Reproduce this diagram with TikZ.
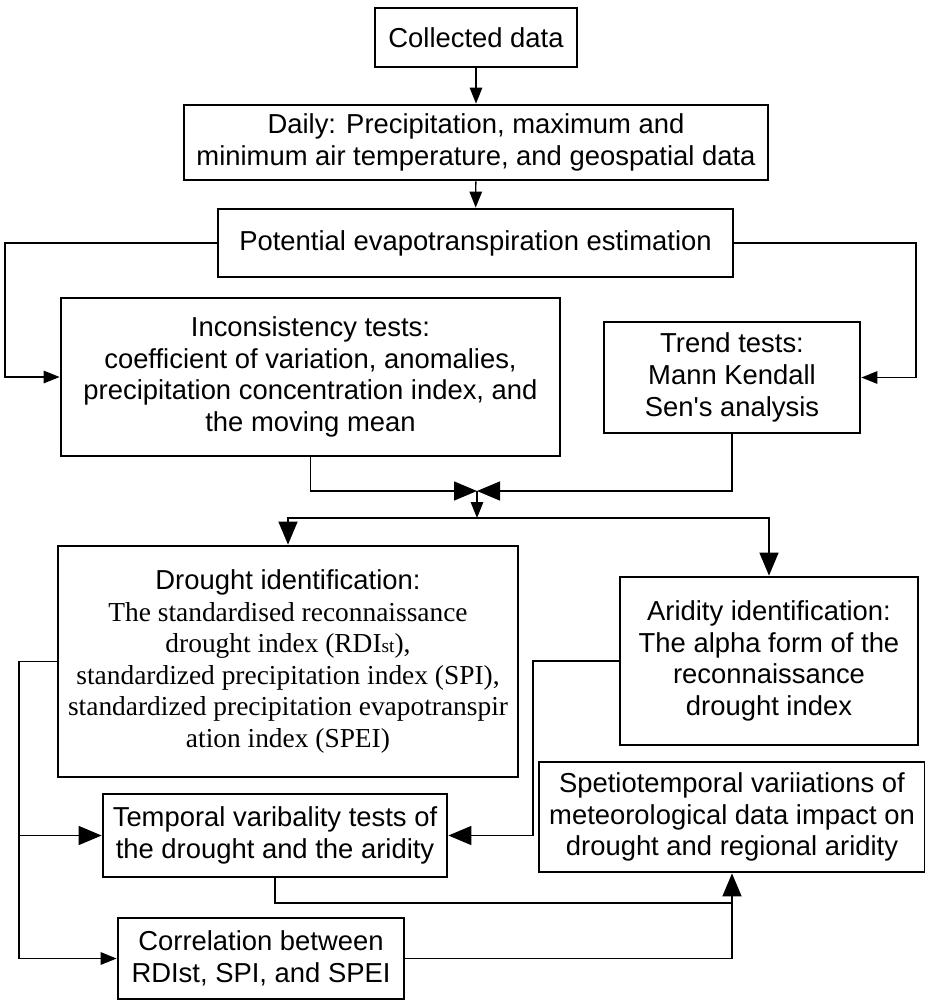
\documentclass[tikz,border=0pt]{standalone}
\usepackage{fontspec}
\setmainfont{Liberation Sans}[Ligatures=TeXOff]
\newfontfamily\timesfont{Liberation Serif}
\usetikzlibrary{arrows.meta, positioning, calc}

\begin{document}
\begin{tikzpicture}[
    x=0.02cm, y=-0.02cm,
    box/.style={rectangle, draw=black, line width=1.6pt, fill=white, inner sep=2pt, align=center, font=\fontsize{15.6pt}{18pt}\selectfont},
    link/.style={line width=0.8pt},
    arrow/.style={link, -{Triangle[length=0.32cm, width=0.25cm]}},
    bigarrow/.style={link, -{Triangle[length=0.46cm, width=0.38cm]}}
  ]
  \fill[white] (0,0) rectangle (924,1001);
  \useasboundingbox (0,0) rectangle (924,1001);

  % Nodes
  \node[box, minimum width=4.04cm, minimum height=1.18cm] (collected) at (476,37.5) {Collected data};
  \node[box, minimum width=11.68cm, minimum height=1.5cm] (daily) at (476,142.5) {Daily: Precipitation, maximum and\\minimum air temperature, and geospatial data};
  \node[box, minimum width=10.3cm, minimum height=1.36cm] (pet) at (475.5,243) {Potential evapotranspiration estimation};
  \node[box, minimum width=9.98cm, minimum height=3.16cm] (incons) at (310.5,377) {Inconsistency tests:\\coefficient of variation, anomalies,\\precipitation concentration index, and\\the moving mean};
  \node[box, minimum width=5.12cm, minimum height=2.22cm] (trend) at (732,377.5) {Trend tests:\\Mann Kendall\\Sen's analysis};
  \node[box, minimum width=9.2cm, minimum height=4.62cm] (drought) at (288,661.5) {Drought identification:\\
    \timesfont The standardised reconnaissance\\
    \timesfont drought index (RDI{\fontsize{11pt}{11pt}\selectfont st}),\\
    \timesfont standardized precipitation index (SPI),\\
    \timesfont standardized precipitation evapotranspir\\
    \timesfont ation index (SPEI)};
  \node[box, minimum width=5.96cm, minimum height=3.36cm] (aridity) at (769,661) {Aridity identification:\\The alpha form of the\\reconnaissance\\drought index};
  \node[box, minimum width=7.72cm, minimum height=2.2cm] (spatio) at (732,817) {Spetiotemporal variiations of\\meteorological data impact on\\drought and regional aridity};
  \node[box, minimum width=6.88cm, minimum height=1.66cm] (temporal) at (275,835.5) {Temporal varibality tests of\\the drought and the aridity};
  \node[box, minimum width=5.72cm, minimum height=1.62cm] (correl) at (261,958.5) {Correlation between\\RDIst, SPI, and SPEI};

  % Rails
  \coordinate (leftrail) at (5,0);
  \coordinate (rightrail) at (916,0);
  \coordinate (join) at (477,491);
  \coordinate (split) at (477,518);
  \coordinate (bus) at (19,0);
  \coordinate (midbus) at (533,0);
  \coordinate (merge) at (732,903);

  % Connections
  \draw[arrow] (collected) -- (daily);
  \draw[arrow] (daily) -- (pet);
  \draw[arrow] (pet.west) -- (pet.west -| leftrail) |- (incons.west);
  \draw[arrow] (pet.east) -- (pet.east -| rightrail) |- (trend.east);
  \draw[bigarrow] (incons.south) |- (join);
  \draw[bigarrow] (trend.south) |- (join);
  \draw[arrow] (join) -- (split);
  \draw[bigarrow] (split) -| (drought.north);
  \draw[bigarrow] (split) -| (aridity.north);
  \draw[arrow] (drought.west) -- (drought.west -| bus) |- (correl.west);
  \draw[bigarrow] (temporal.west -| bus) -- (temporal.west);
  \draw[bigarrow] (aridity.west) -- (aridity.west -| midbus) |- (temporal.east);
  \draw[link] (temporal.south) |- (merge);
  \draw[link] (correl.east) -| (merge);
  \draw[bigarrow] (merge) -- (spatio.south);
\end{tikzpicture}
\end{document}
